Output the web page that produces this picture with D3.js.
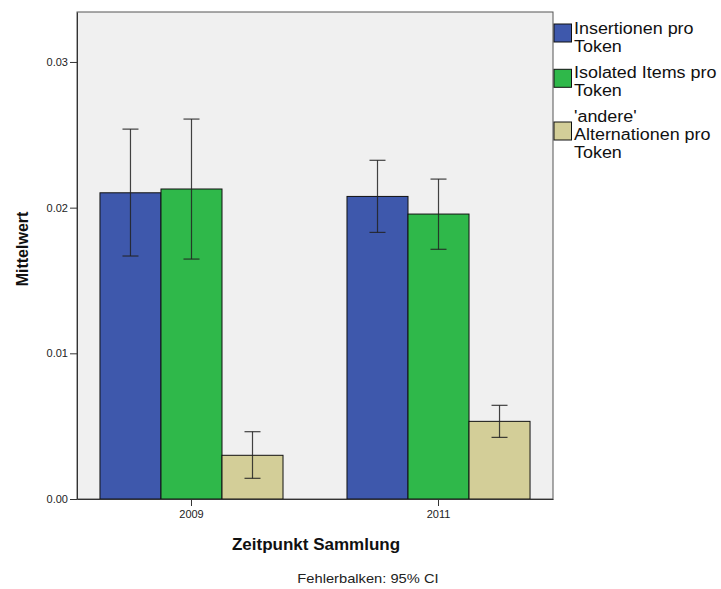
<!DOCTYPE html>
<html><head><meta charset="utf-8">
<script src="https://cdn.jsdelivr.net/npm/d3@7"></script>
<style>body{margin:0;background:#fff;} svg{display:block;font-family:"Liberation Sans",Arial,sans-serif;}</style>
</head><body>
<svg id="c" width="721" height="589"></svg>
<script>
const categories = ["2009", "2011"];
const seriesNames = ["Insertionen pro Token", "Isolated Items pro Token", "'andere' Alternationen pro Token"];
const legendLines = [["Insertionen pro", "Token"], ["Isolated Items pro", "Token"], ["'andere'", "Alternationen pro", "Token"]];
const colors = ["#3e58ac", "#2fb84a", "#d3ce98"];
const means2009 = [0.02102, 0.02128, 0.00300];
const means2011 = [0.02077, 0.01956, 0.00533];
const lower2009 = [0.01668, 0.01647, 0.00142];
const upper2009 = [0.02539, 0.02608, 0.00462];
const lower2011 = [0.01830, 0.01714, 0.00423];
const upper2011 = [0.02325, 0.02196, 0.00643];
const yTicks = [0.00, 0.01, 0.02, 0.03];

const means = [means2009, means2011], lows = [lower2009, lower2011], ups = [upper2009, upper2011];
const svg = d3.select("#c");
const L = 77, R = 553, T = 12, B = 499;
const y = d3.scaleLinear().domain([0, 0.03343]).range([B, T]);
const x0 = d3.scaleBand().domain(categories).range([L, R]).paddingInner(0.259).paddingOuter(0.093);
const x1 = d3.scaleBand().domain(d3.range(3)).range([0, x0.bandwidth()]);

svg.append("rect").attr("x", L).attr("y", T).attr("width", R - L).attr("height", B - T)
  .attr("fill", "#f0f0f0").attr("stroke", "#555").attr("stroke-width", 1);

const data = [];
categories.forEach((c, i) => d3.range(3).forEach(s => data.push({c, s, v: means[i][s], lo: lows[i][s], hi: ups[i][s]})));

svg.selectAll("rect.bar").data(data).join("rect").attr("class", "bar")
  .attr("x", d => x0(d.c) + x1(d.s)).attr("width", x1.bandwidth())
  .attr("y", d => y(d.v)).attr("height", d => y(0) - y(d.v))
  .attr("fill", d => colors[d.s]).attr("stroke", "#111").attr("stroke-width", 1);

const eb = svg.selectAll("g.eb").data(data).join("g").attr("class", "eb")
  .attr("stroke", "#222").attr("stroke-opacity", 0.85).attr("stroke-width", 1.2);
const cx = d => x0(d.c) + x1(d.s) + x1.bandwidth() / 2;
eb.append("line").attr("x1", cx).attr("x2", cx).attr("y1", d => y(d.lo)).attr("y2", d => y(d.hi));
eb.append("line").attr("x1", d => cx(d) - 8).attr("x2", d => cx(d) + 8).attr("y1", d => y(d.lo)).attr("y2", d => y(d.lo));
eb.append("line").attr("x1", d => cx(d) - 8).attr("x2", d => cx(d) + 8).attr("y1", d => y(d.hi)).attr("y2", d => y(d.hi));

const yAxis = svg.append("g").attr("transform", `translate(${L},0)`)
  .call(d3.axisLeft(y).tickValues(yTicks).tickFormat(d3.format(".2f")).tickSize(7).tickSizeOuter(0).tickPadding(2));
yAxis.select(".domain").attr("stroke", "#333");
yAxis.selectAll("line").attr("stroke", "#333");
yAxis.selectAll("text").attr("font-size", 11).attr("fill", "#222").attr("font-family", "Liberation Sans, Arial, sans-serif");

const xAxis = svg.append("g").attr("transform", `translate(0,${B})`)
  .call(d3.axisBottom(x0).tickSize(7).tickPadding(4).tickSizeOuter(0));
xAxis.select(".domain").attr("stroke", "#333");
xAxis.selectAll("line").attr("stroke", "#333");
xAxis.selectAll("text").attr("font-size", 11).attr("fill", "#222").attr("font-family", "Liberation Sans, Arial, sans-serif");

function stretch(sel, f) {
  sel.each(function () {
    const w = this.getComputedTextLength();
    d3.select(this).attr("textLength", w * f).attr("lengthAdjust", "spacingAndGlyphs");
  });
  return sel;
}

svg.append("text").attr("transform", `translate(28,249) rotate(-90)`)
  .attr("text-anchor", "middle").attr("font-size", 16).attr("font-weight", "bold").attr("fill", "#111").text("Mittelwert");
stretch(svg.append("text").attr("x", 316).attr("y", 550).attr("text-anchor", "middle")
  .attr("font-size", 17).attr("font-weight", "bold").attr("fill", "#111").text("Zeitpunkt Sammlung"), 1.0);
stretch(svg.append("text").attr("x", 368).attr("y", 583).attr("text-anchor", "middle")
  .attr("font-size", 13).attr("fill", "#222").text("Fehlerbalken: 95% CI"), 1.13);

const legBase = [34, 78, 121.7];
const swY = [24, 69.3, 122];
legendLines.forEach((lines, i) => {
  svg.append("rect").attr("x", 554).attr("y", swY[i]).attr("width", 17.5).attr("height", 18)
    .attr("fill", colors[i]).attr("stroke", "#111").attr("stroke-width", 1);
  lines.forEach((t, j) => {
    stretch(svg.append("text").attr("x", 574).attr("y", legBase[i] + j * 18)
      .attr("font-size", 16).attr("fill", "#111").text(t), 1.12);
  });
});
</script>
</body></html>
